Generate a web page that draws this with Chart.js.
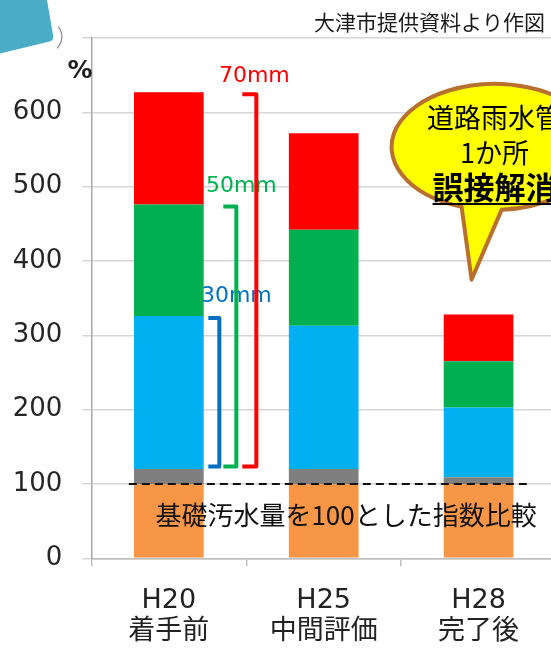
<!DOCTYPE html>
<html>
<head>
<meta charset="utf-8">
<script src="https://cdn.jsdelivr.net/npm/chart.js@4.4.1/dist/chart.umd.min.js"></script>
<style>
  html, body { margin: 0; padding: 0; background: #fff; overflow: hidden; width: 551px; height: 648px; }
  #wrap { position: absolute; left: 0; top: 0; width: 600px; height: 648px; }
</style>
</head>
<body>
<div id="wrap"><canvas id="c" width="600" height="648"></canvas></div>
<script>
// 雨天時の汚水量（基礎汚水量 = 100 とした指数）
const categories = [['H20', '着手前'], ['H25', '中間評価'], ['H28', '完了後']];
const baseSewage = [100, 100, 100];   // 基礎汚水量
const infiltration = [20, 20, 9];     // 浸入水
const rain30 = [206, 193, 94];        // 30mm 降雨時の増分
const rain50 = [150, 129, 62];        // 50mm 降雨時の増分
const rain70 = [151, 130, 63];        // 70mm 降雨時の増分
const yMax = 700;
const yStep = 100;
const rainLabels = ['30mm', '50mm', '70mm'];
const calloutLines = ['道路雨水管', '1か所', '誤接解消'];
const baseNote = '基礎汚水量を100とした指数比較';
const sourceNote = '大津市提供資料より作図';
const unitLabel = '%';

const LATIN = '"DejaVu Sans", "Noto Sans CJK JP", sans-serif';
const CJK = '"Noto Sans CJK JP", "DejaVu Sans", sans-serif';

const segColors = ['#F79646', '#7F7F7F', '#00B0F0', '#00B050', '#FF0000'];
const bracketColors = ['#0070C0', '#00B050', '#FF0000'];

// 降雨量ごとの括弧と注記、基準線、吹き出しなど
const overlay = {
  id: 'overlay',
  afterDatasetsDraw(chart) {
    const { ctx, scales: { x, y } } = chart;
    ctx.save();

    // H20 の棒に付ける 30/50/70mm の括弧
    const i = 0;
    const bottomVal = baseSewage[i] + infiltration[i];
    const tops = [
      bottomVal + rain30[i],
      bottomVal + rain30[i] + rain50[i],
      bottomVal + rain30[i] + rain50[i] + rain70[i]
    ];
    const barRight = x.getPixelForValue(i) + 35;
    const vxOffsets = [15.5, 32.5, 52.5];
    const arms = [11, 13, 14];
    const labelDx = [17, 5, -2];
    const labelDy = [-22, -20, -18];
    const yBottom = y.getPixelForValue(bottomVal) - 2.5;
    ctx.lineWidth = 4;
    ctx.lineJoin = 'round';
    ctx.lineCap = 'butt';
    for (let k = 0; k < 3; k++) {
      const vx = barRight + vxOffsets[k];
      const yt = y.getPixelForValue(tops[k]) + 2;
      ctx.strokeStyle = bracketColors[k];
      ctx.beginPath();
      ctx.moveTo(vx - arms[k], yt);
      ctx.lineTo(vx, yt);
      ctx.lineTo(vx, yBottom);
      ctx.lineTo(vx - arms[k], yBottom);
      ctx.stroke();
      ctx.fillStyle = bracketColors[k];
      ctx.font = '22px ' + LATIN;
      ctx.textAlign = 'center';
      ctx.textBaseline = 'middle';
      ctx.fillText(rainLabels[k], vx + labelDx[k], yt + labelDy[k]);
    }

    // 基礎汚水量 100 の破線
    const y100 = y.getPixelForValue(baseSewage[0]);
    ctx.strokeStyle = '#111';
    ctx.lineWidth = 2;
    ctx.setLineDash([8, 5]);
    ctx.beginPath();
    ctx.moveTo(x.getPixelForValue(0) - 40, y100);
    ctx.lineTo(x.getPixelForValue(2) + 52, y100);
    ctx.stroke();
    ctx.setLineDash([]);

    ctx.fillStyle = '#111';
    ctx.font = '26px ' + CJK;
    ctx.textAlign = 'left';
    ctx.textBaseline = 'middle';
    ctx.fillText(baseNote, chart.chartArea.left + 64, y100 + 31);

    // 吹き出し
    const cx = x.getPixelForValue(2) + 16;
    const cy = 147, rx = 103, ry = 63;
    const tipX = x.getPixelForValue(2) - 7;
    const tipY = y.getPixelForValue(375);
    const aL = Math.acos(-33 / rx);
    const aR = Math.acos(7 / rx);
    ctx.beginPath();
    ctx.ellipse(cx, cy, rx, ry, 0, aL, aR + Math.PI * 2);
    ctx.lineTo(tipX, tipY);
    ctx.closePath();
    ctx.fillStyle = '#FFFF00';
    ctx.fill();
    ctx.strokeStyle = '#B8702E';
    ctx.lineWidth = 4;
    ctx.lineJoin = 'round';
    ctx.stroke();

    ctx.fillStyle = '#000';
    ctx.textAlign = 'center';
    ctx.textBaseline = 'middle';
    ctx.font = '27px ' + CJK;
    ctx.fillText(calloutLines[0], cx, 118);
    ctx.fillText(calloutLines[1], cx, 153);
    ctx.font = 'bold 31px ' + CJK;
    ctx.fillText(calloutLines[2], cx, 187);
    const w = ctx.measureText(calloutLines[2]).width;
    ctx.lineWidth = 2;
    ctx.strokeStyle = '#000';
    ctx.beginPath();
    ctx.moveTo(cx - w / 2, 204);
    ctx.lineTo(cx + w / 2, 204);
    ctx.stroke();

    ctx.restore();
  },
  afterDraw(chart) {
    const { ctx } = chart;
    ctx.save();
    // 左上の装飾
    ctx.fillStyle = '#4BACC6';
    ctx.beginPath();
    ctx.moveTo(0, 0);
    ctx.lineTo(47, 0);
    ctx.lineTo(53, 35);
    ctx.quadraticCurveTo(54.5, 40.5, 48.5, 41.8);
    ctx.lineTo(0, 53.5);
    ctx.closePath();
    ctx.fill();
    ctx.strokeStyle = '#8a8a8a';
    ctx.lineWidth = 1.2;
    ctx.beginPath();
    ctx.moveTo(58.3, 26.7);
    ctx.quadraticCurveTo(66, 37, 57.3, 48.3);
    ctx.stroke();

    // 出典
    ctx.fillStyle = '#1a1a1a';
    ctx.font = '21px ' + CJK;
    ctx.textAlign = 'right';
    ctx.textBaseline = 'middle';
    ctx.fillText(sourceNote, 545, 22);

    // 単位
    ctx.fillStyle = '#222';
    ctx.font = 'bold 25px ' + LATIN;
    ctx.textAlign = 'center';
    ctx.fillText(unitLabel, 80, 71);
    ctx.restore();
  }
};

const seriesList = [baseSewage, infiltration, rain30, rain50, rain70];
const seriesNames = ['基礎汚水量', '浸入水', '30mm', '50mm', '70mm'];

new Chart(document.getElementById('c'), {
  type: 'bar',
  data: {
    labels: categories,
    datasets: seriesList.map((d, k) => ({
      label: seriesNames[k],
      data: d,
      backgroundColor: segColors[k],
      borderWidth: 0,
      barPercentage: 0.45,
      categoryPercentage: 1
    }))
  },
  options: {
    responsive: false,
    animation: false,
    devicePixelRatio: 1,
    layout: { padding: { left: 0, top: 38, right: 44, bottom: 0 } },
    plugins: { legend: { display: false }, tooltip: { enabled: false } },
    scales: {
      x: {
        stacked: true,
        grid: { drawOnChartArea: false, drawTicks: true, tickLength: 8, color: '#bdbdbd', lineWidth: 1.5 },
        border: { color: '#bdbdbd', width: 1.5 },
        ticks: { color: '#222', padding: 19, font: { family: LATIN, size: 27, lineHeight: 1.15 } },
        afterFit(scale) { scale.height = 89.7; }
      },
      y: {
        stacked: true,
        min: 0,
        max: yMax,
        grid: { color: '#d6d6d6', lineWidth: 1.5, tickLength: 9 },
        border: { color: '#a8a8a8', width: 1.5 },
        ticks: {
          stepSize: yStep,
          color: '#262626',
          padding: 20,
          font: { family: LATIN, size: 26 },
          callback: v => (v === yMax ? '' : v)
        },
        afterFit(scale) { scale.width = 91.4; }
      }
    }
  },
  plugins: [overlay]
});
</script>
</body>
</html>
